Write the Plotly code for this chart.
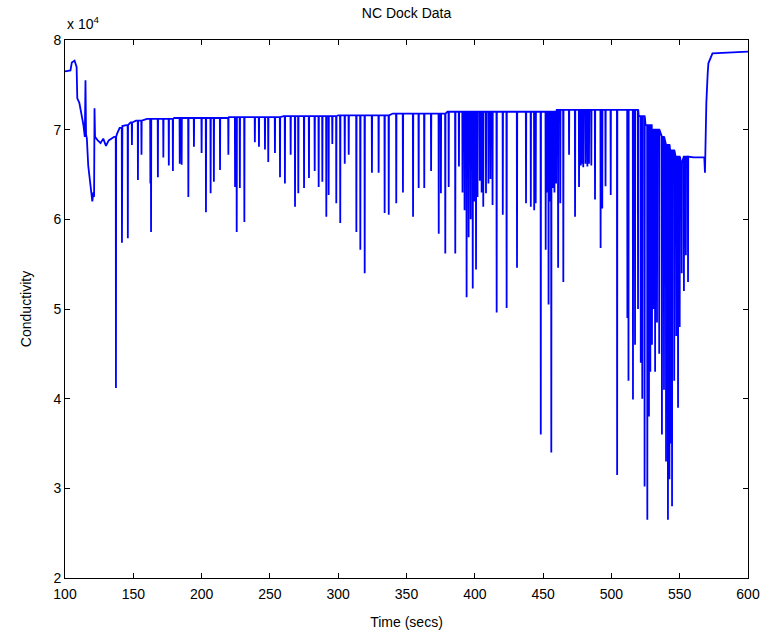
import plotly.graph_objects as go

# Baseline readings (time s, conductivity x1e4)
base_t = [100, 104, 105, 107, 108.5, 109, 110.5, 111.5, 112.5, 113.5, 114.5, 115, 115.4, 116, 117, 118,
          119, 120, 120.8, 121.3, 121.6, 122, 124, 126, 128, 130, 132, 134, 136, 138, 140, 142, 145,
          148, 152, 160, 180, 220, 260, 300, 340, 380, 420, 460, 490, 515, 520, 525, 530, 537, 540,
          543, 547, 551, 553, 560, 568, 568.5, 569.5, 570.5, 571, 574, 585, 600]
base_v = [7.65, 7.66, 7.75, 7.77, 7.70, 7.35, 7.30, 7.22, 7.15, 7.05, 6.92, 7.55, 6.95, 6.90, 6.60, 6.45,
          6.30, 6.20, 6.30, 6.25, 7.24, 6.92, 6.88, 6.85, 6.90, 6.82, 6.88, 6.90, 6.92, 6.95, 7.02, 7.04, 7.05,
          7.08, 7.10, 7.12, 7.13, 7.14, 7.15, 7.16, 7.18, 7.20, 7.20, 7.22, 7.22, 7.22, 7.15, 7.05, 7.00, 6.92, 6.83,
          6.77, 6.70, 6.63, 6.70, 6.69, 6.69, 6.52, 7.30, 7.63, 7.74, 7.85, 7.86, 7.87]

# Downward spikes: time and minimum value (x1e4)
spike_t = [137.3, 141.7, 146, 149, 153.4, 156, 162.5, 163, 168, 172, 176, 179, 184, 185.4, 190.3, 194.4,
           200, 203.2, 206.6, 209, 213.5, 219.6, 224.5, 225.7, 228, 231.3, 239, 242, 246.4, 248.8, 253.7,
           257.4, 261, 265.2, 268.4, 270.8, 275, 278.6, 282.8, 285.7, 288.4, 291.3, 293, 295.7, 298.6,
           301.5, 304.8, 307.7, 313.3, 316.2, 319.4, 324.7, 329.6, 334, 337, 342.5, 347.4, 354.8, 358.9,
           363, 368, 373.6, 375.2, 378.4, 380.9, 385.7, 388.4, 391, 392.5, 394, 395.5, 397, 398.5, 399.5,
           400.9, 402, 403.7, 405, 406.2, 408.2, 410, 411.5, 413, 416, 420.5, 423.3, 430.9, 437.5, 441,
           443.5, 444.6, 448.3, 451.9, 452.8, 454, 455, 456, 457.2, 458.3, 459.5, 461, 462.6, 464.8, 469,
           473.4, 476.3, 477.6, 478.5, 479.4, 481, 482.4, 483.6, 485.3, 488, 492.1, 493.3, 495.7, 499.5,
           504.2, 511.7, 512.5, 515.8, 517.3, 519.5, 521.5, 522.6, 524.3, 526.3, 527.5, 528.5, 529.7,
           531, 532, 533.4, 535, 537, 538.5, 540, 541.4, 542.5, 543.5, 544.4, 546, 547.5, 548.8, 550,
           551.5, 553.1, 554.5, 556.1]
spike_min = [4.12, 5.74, 5.79, 6.83, 6.44, 6.72, 6.40, 5.86, 6.47, 6.69, 6.60, 6.54, 6.62, 6.61, 6.25, 6.81,
             6.74, 6.08, 6.29, 6.42, 6.55, 6.72, 6.36, 5.86, 6.35, 5.97, 6.86, 6.81, 6.78, 6.64, 6.74,
             6.47, 6.40, 6.72, 6.14, 6.29, 6.35, 6.46, 6.54, 6.36, 6.42, 6.03, 6.27, 6.84, 6.18,
             5.96, 6.62, 6.72, 5.86, 5.66, 5.40, 6.52, 6.52, 6.07, 6.05, 6.18, 6.30, 6.03, 6.35,
             6.35, 6.54, 5.84, 6.29, 5.62, 6.36, 5.62, 6.59, 6.30, 6.10, 5.13, 5.80, 6.00, 5.23, 6.20,
             5.44, 6.25, 6.43, 6.30, 6.14, 6.29, 6.40, 6.45, 6.16, 4.96, 6.05, 5.01, 5.46, 6.18, 6.14,
             6.10, 6.18, 3.60, 5.66, 6.30, 5.05, 6.20, 3.40, 6.35, 6.30, 6.40, 5.46, 6.18, 5.30, 6.72,
             6.03, 6.36, 6.60, 6.62, 6.58, 6.62, 6.59, 6.62, 6.60, 6.22, 5.68, 6.12, 6.37, 6.27,
             3.15, 4.90, 4.20, 3.99, 4.60, 5.00, 4.40, 4.00, 3.02, 2.65, 3.80, 4.30, 4.60,
             5.00, 4.30, 4.85, 4.50, 3.60, 4.10, 3.30, 2.65, 3.10, 3.50, 2.80, 4.20, 4.70, 3.90, 4.80,
             5.40, 5.20, 5.60, 5.30]

x_ticks = [100, 150, 200, 250, 300, 350, 400, 450, 500, 550, 600]
y_ticks = [2, 3, 4, 5, 6, 7, 8]

# Assemble the time series from readings (baseline held between readings)
events = [(t, 0, v) for t, v in zip(base_t, base_v)] + [(t, 1, v) for t, v in zip(spike_t, spike_min)]
events.sort(key=lambda e: (e[0], e[1]))
xs, ys = [], []
cur = base_v[0]
for t, kind, v in events:
    if kind == 0:
        xs.append(t); ys.append(v * 1e4); cur = v
    else:
        xs += [t - 0.15, t, t + 0.15]
        ys += [cur * 1e4, v * 1e4, cur * 1e4]

fig = go.Figure()
fig.add_trace(go.Scatter(x=xs, y=ys, mode="lines", line=dict(color="#0000FF", width=1.8),
                         hoverinfo="skip", showlegend=False))

font = "Liberation Sans, Arial, sans-serif"
axis_common = dict(showline=True, linecolor="black", linewidth=1, mirror="ticks", ticks="inside",
                   ticklen=5, tickcolor="black", showgrid=False, zeroline=False, automargin=False,
                   tickfont=dict(family=font, size=14, color="black"))
fig.update_xaxes(range=[100, 600], tickvals=x_ticks, ticktext=[str(v) for v in x_ticks],
                 ticklabelstandoff=3,
                 title=dict(text="Time (secs)", font=dict(family=font, size=14, color="black"), standoff=16),
                 **axis_common)
fig.update_yaxes(range=[2e4, 8e4], tickvals=[v * 1e4 for v in y_ticks], ticktext=[str(v) for v in y_ticks],
                 title=dict(text="Conductivity", font=dict(family=font, size=14, color="black"), standoff=18),
                 **axis_common)
fig.update_layout(
    width=765, height=634, margin=dict(l=65, r=17, t=40, b=56),
    paper_bgcolor="white", plot_bgcolor="white",
    title=dict(text="NC Dock Data", xref="paper", x=0.5, xanchor="center",
               yref="container", y=0.987, yanchor="top",
               font=dict(family=font, size=14, color="black")),
    annotations=[dict(text="x 10<sup>4</sup>", xref="paper", yref="paper", x=0, y=1, xanchor="left",
                      yanchor="bottom", showarrow=False, yshift=6,
                      font=dict(family=font, size=14, color="black"))],
)
fig.write_html("out.html", config={"displayModeBar": False},
               post_script="document.body.style.margin='0';document.body.style.overflow='hidden';")
